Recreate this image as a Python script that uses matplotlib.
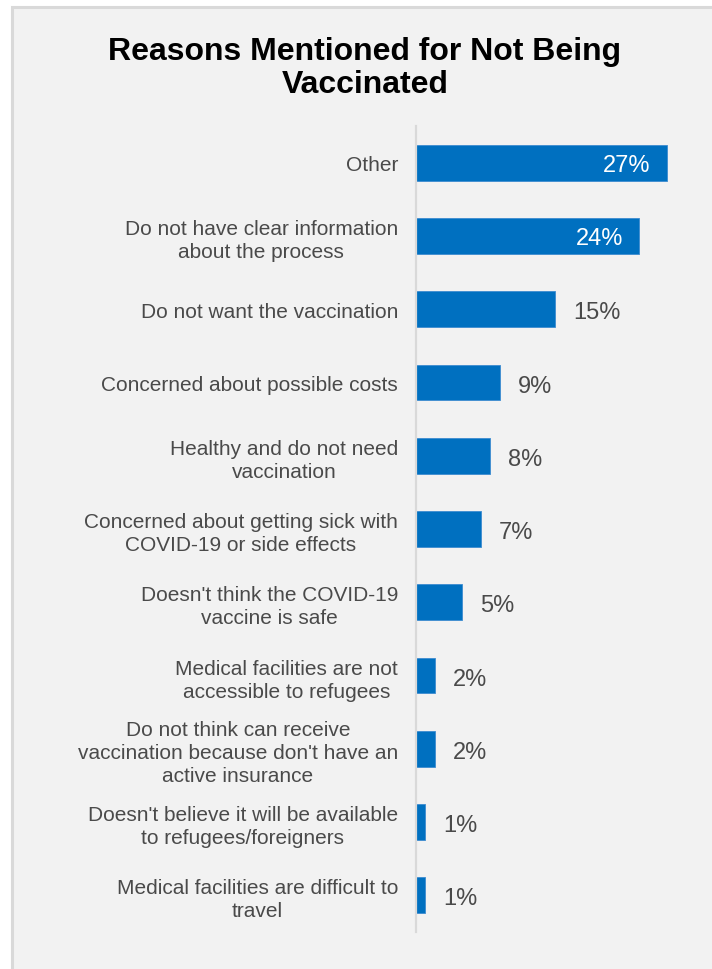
import matplotlib
matplotlib.use("Agg")
import matplotlib.pyplot as plt
from matplotlib.patches import Rectangle

categories = [
    "Other",
    "Do not have clear information\nabout the process",
    "Do not want the vaccination",
    "Concerned about possible costs",
    "Healthy and do not need\nvaccination",
    "Concerned about getting sick with\nCOVID-19 or side effects",
    "Doesn't think the COVID-19\nvaccine is safe",
    "Medical facilities are not\naccessible to refugees",
    "Do not think can receive\nvaccination because don't have an\nactive insurance",
    "Doesn't believe it will be available\nto refugees/foreigners",
    "Medical facilities are difficult to\ntravel",
]
values = [27, 24, 15, 9, 8, 7, 5, 2, 2, 1, 1]

W, H = 712, 970
BAR = "#0070C0"
TEXT = "#4a4a4a"
FONT = "Liberation Sans"

fig = plt.figure(figsize=(W / 100, H / 100), dpi=100, facecolor="white")

# panel with light border, drawn behind everything
panel = Rectangle((12 / W, -0.05), 1.0, 1 - 8 / H + 0.05, transform=fig.transFigure,
                  facecolor="#f2f2f2", edgecolor="#d9d9d9", linewidth=2.2, zorder=-10)
fig.patches.append(panel)

fig.text(365 / W, 1 - 68.5 / H, "Reasons Mentioned for Not Being\nVaccinated",
         ha="center", va="center", fontsize=23, fontweight="bold", family=FONT,
         color="black", linespacing=1.17, zorder=5)

ax = fig.add_axes([416 / W, 1 - 933 / H, (704 - 416) / W, (933 - 127) / H], zorder=2)
ax.set_facecolor("none")

y = list(range(len(categories)))
ax.barh(y, values, height=0.49, color=BAR, edgecolor="#3d8bd0", linewidth=0.6, zorder=2)
ax.set_ylim(len(categories) - 0.5, -0.5)
ax.set_xlim(0, 31)

ax.set_yticks(y)
ax.set_yticklabels(categories)
for lbl in ax.get_yticklabels():
    lbl.set_family(FONT)
    lbl.set_fontsize(15)
    lbl.set_color(TEXT)
    lbl.set_multialignment("center")
    lbl.set_linespacing(1.27)
ax.tick_params(axis="y", length=0, pad=13)
ax.set_xticks([])

for s in ["top", "right", "bottom"]:
    ax.spines[s].set_visible(False)
ax.spines["left"].set_color("#d9d9d9")
ax.spines["left"].set_linewidth(1.6)
ax.spines["left"].set_zorder(3)

for yi, v in zip(y, values):
    if v >= 20:
        ax.annotate(f"{v}%", (v, yi), xytext=(-11.5, -1.8), textcoords="offset points",
                    ha="right", va="center", fontsize=17, family=FONT, color="white")
    else:
        ax.annotate(f"{v}%", (v, yi), xytext=(13, -2.2), textcoords="offset points",
                    ha="left", va="center", fontsize=17, family=FONT, color=TEXT)

fig.savefig("out.png", dpi=100, facecolor=fig.get_facecolor())
